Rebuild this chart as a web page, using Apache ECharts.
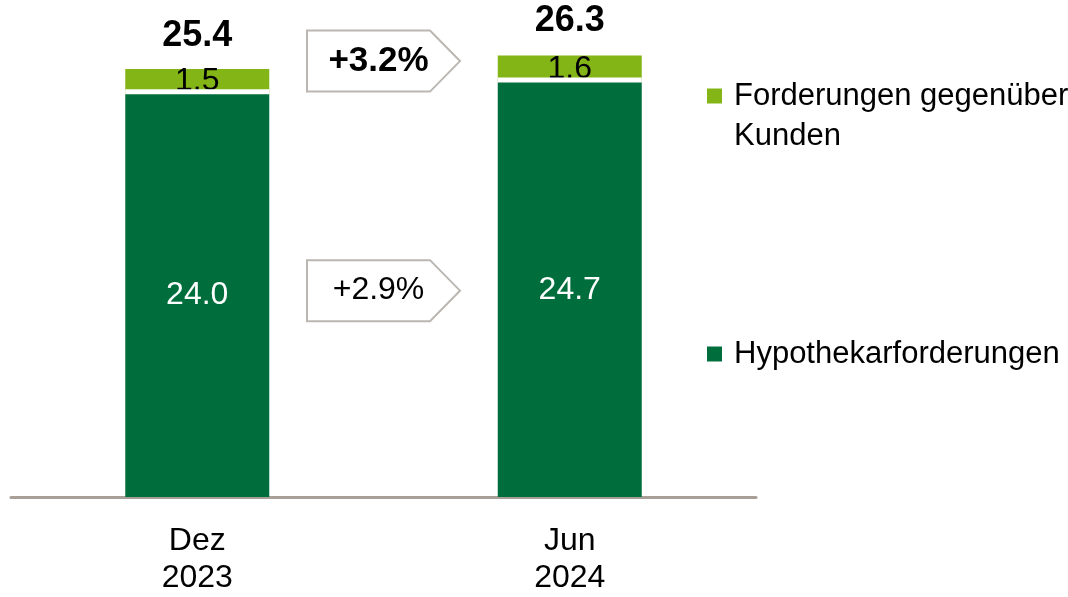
<!DOCTYPE html>
<html>
<head>
<meta charset="utf-8">
<script src="https://cdn.jsdelivr.net/npm/echarts@6/dist/echarts.min.js"></script>
<style>
  html, body { margin: 0; padding: 0; background: #fff; }
  #chart { width: 1068px; height: 597px; }
</style>
</head>
<body>
<div id="chart"></div>
<script>
const categories = ["Dez\n2023", "Jun\n2024"];
const mortgages = [24.0, 24.7];
const customerLoans = [1.5, 1.6];
const totals = [25.4, 26.3];
// growth Dez 2023 -> Jun 2024: total, mortgages
const growthLabels = ["+3.2%", "+2.9%"];

const FONT = "'Liberation Sans', Arial, sans-serif";
const DARK = "#006e3c";
const LIGHT = "#84b517";

const avg = a => a.reduce((s, v) => s + v, 0) / a.length;
// total growth box sits at the level of the totals, mortgage growth box mid-bar
const growthData = [[0, avg(totals)], [0, avg(mortgages) / 2]];

const chart = echarts.init(document.getElementById("chart"));
chart.setOption({
  animation: false,
  textStyle: { fontFamily: FONT },
  grid: { left: 11, right: 312, top: 27, bottom: 100 },
  legend: [
    {
      left: 707,
      top: 36,
      padding: 0,
      icon: "rect",
      itemWidth: 15,
      itemHeight: 15,
      data: ["Forderungen gegenüber\nKunden"],
      // empty first line so the square lines up with the first text line
      formatter: name => "\n" + name,
      textStyle: { fontSize: 31, color: "#000", lineHeight: 40, padding: [0, 0, 0, 7] }
    },
    {
      left: 707,
      top: 334,
      padding: 0,
      icon: "rect",
      itemWidth: 15,
      itemHeight: 15,
      data: ["Hypothekarforderungen"],
      textStyle: { fontSize: 31, color: "#000", lineHeight: 40, padding: [0, 0, 0, 7] }
    }
  ],
  xAxis: {
    type: "category",
    data: categories,
    offset: 1.5,
    axisTick: { show: false },
    axisLine: { lineStyle: { color: "#a8a098", width: 3 } },
    axisLabel: { fontSize: 32, lineHeight: 37, color: "#000", margin: 24 }
  },
  yAxis: {
    type: "value",
    min: 0,
    max: 28,
    show: false,
    splitLine: { show: false }
  },
  series: [
    {
      name: "Hypothekarforderungen",
      type: "bar",
      stack: "total",
      barWidth: 144,
      z: 3,
      data: mortgages,
      itemStyle: {
        color: DARK,
        shadowColor: "#fff",
        shadowBlur: 0,
        shadowOffsetY: -5
      },
      label: {
        show: true,
        position: "inside",
        color: "#fff",
        fontSize: 32,
        formatter: p => p.value.toFixed(1)
      }
    },
    {
      name: "Forderungen gegenüber\nKunden",
      type: "bar",
      stack: "total",
      barWidth: 144,
      z: 2,
      data: customerLoans,
      itemStyle: { color: LIGHT },
      label: {
        show: true,
        position: "inside",
        color: "#000",
        fontSize: 32,
        formatter: p => p.value.toFixed(1)
      }
    },
    {
      name: "Total",
      type: "scatter",
      symbolSize: 1,
      z: 4,
      data: totals,
      itemStyle: { color: "rgba(0,0,0,0)", opacity: 1 },
      label: {
        show: true,
        position: "top",
        distance: 16,
        color: "#000",
        opacity: 1,
        fontSize: 36,
        fontWeight: "bold",
        formatter: p => p.value.toFixed(1)
      }
    },
    {
      name: "Wachstum",
      type: "custom",
      z: 5,
      data: growthData,
      renderItem(params, api) {
        const v = api.value(1);
        const p0 = api.coord([0, v]);
        const p1 = api.coord([1, v]);
        const cx = (p0[0] + p1[0]) / 2;
        const cy = p0[1] - 2;
        const h = 30.5;
        const bold = params.dataIndex === 0;
        return {
          type: "group",
          children: [
            {
              type: "polygon",
              shape: {
                points: [
                  [cx - 76.5, cy - h],
                  [cx + 46.5, cy - h],
                  [cx + 76.5, cy],
                  [cx + 46.5, cy + h],
                  [cx - 76.5, cy + h]
                ]
              },
              style: { fill: "#fff", stroke: "#bcb6b0", lineWidth: 2 }
            },
            {
              type: "text",
              style: {
                text: growthLabels[params.dataIndex],
                x: cx - 5,
                y: cy,
                align: "center",
                verticalAlign: "middle",
                fontFamily: FONT,
                fontSize: bold ? 35 : 32,
                fontWeight: bold ? "bold" : "normal",
                fill: "#000"
              }
            }
          ]
        };
      }
    }
  ]
});
</script>
</body>
</html>
